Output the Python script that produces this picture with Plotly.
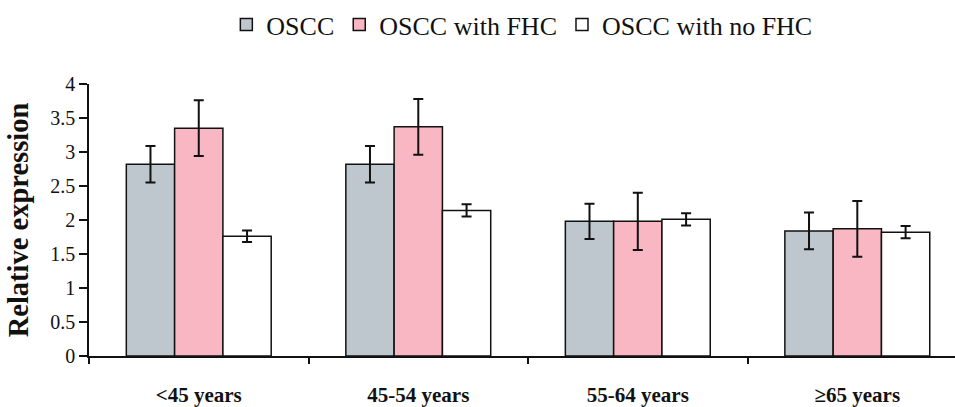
import plotly.graph_objects as go

categories = ["<45 years", "45-54 years", "55-64 years", "≥65 years"]
series_names = ["OSCC", "OSCC with FHC", "OSCC with no FHC"]
oscc = [2.82, 2.82, 1.98, 1.84]
oscc_err = [0.27, 0.27, 0.26, 0.27]
fhc = [3.35, 3.37, 1.98, 1.87]
fhc_err = [0.41, 0.41, 0.42, 0.41]
nofhc = [1.76, 2.14, 2.01, 1.82]
nofhc_err = [0.085, 0.09, 0.09, 0.09]

colors = ["#bfc7ce", "#f8b7c2", "#ffffff"]
values = [oscc, fhc, nofhc]
errors = [oscc_err, fhc_err, nofhc_err]

fig = go.Figure()
for name, vals, errs, col in zip(series_names, values, errors, colors):
    fig.add_trace(go.Bar(
        x=categories, y=vals, name=name,
        marker=dict(color=col, line=dict(color="#111111", width=1.5)),
        error_y=dict(type="data", array=errs, visible=True, color="#111111",
                     thickness=2, width=5),
    ))

serif = "Liberation Serif, Times New Roman, serif"
fig.update_layout(
    width=955, height=407,
    margin=dict(l=89, r=0, t=84, b=48),
    paper_bgcolor="white", plot_bgcolor="white",
    barmode="group", bargap=0.34, bargroupgap=0,
    font=dict(family=serif, color="#111111"),
    showlegend=True,
    legend=dict(orientation="h", xref="container", yref="container",
                x=0.237, y=0.997, xanchor="left", yanchor="top",
                font=dict(size=26, family=serif, color="#111111"),
                itemwidth=30, tracegroupgap=0),
    xaxis=dict(type="category", range=[-0.5, 3.445],
               showline=True, linecolor="#111111", linewidth=1.5,
               ticks="outside", tickson="boundaries", ticklen=6,
               tickcolor="#111111", tickwidth=1.5,
               tickfont=dict(size=21, family=serif, color="#111111", weight="bold"),
               ticklabelstandoff=19, showgrid=False, zeroline=False),
    yaxis=dict(range=[0, 4], tickvals=[0, 0.5, 1, 1.5, 2, 2.5, 3, 3.5, 4],
               ticktext=["0", "0.5", "1", "1.5", "2", "2.5", "3", "3.5", "4"],
               showline=True, linecolor="#111111", linewidth=1.5,
               ticks="outside", ticklen=8, tickcolor="#111111", tickwidth=1.5,
               tickfont=dict(size=20, family=serif, color="#111111"),
               showgrid=False, zeroline=False,
               title=dict(text="<b>Relative expression</b>",
                          font=dict(size=28.5, family=serif, color="#111111"),
                          standoff=13)),
)

fig.write_html("out.html")
